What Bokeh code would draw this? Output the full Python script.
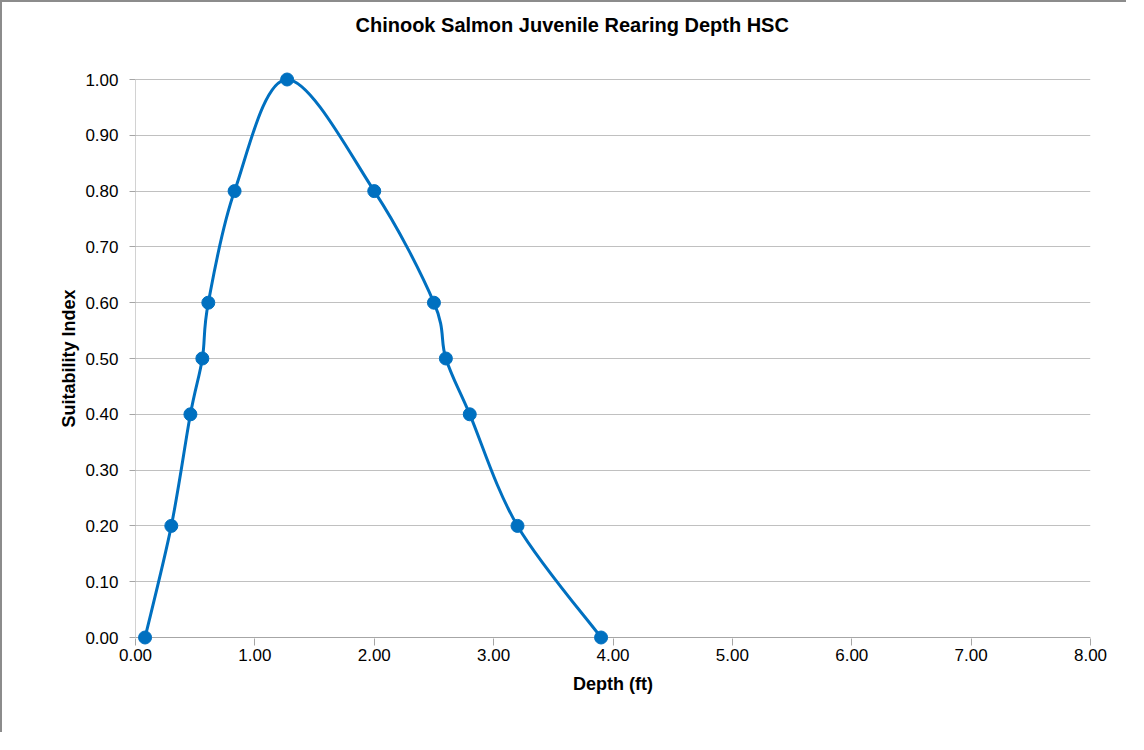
import numpy as np
from bokeh.plotting import figure
from bokeh.models import Range1d, FixedTicker, NumeralTickFormatter, Title
from bokeh.embed import file_html
from bokeh.resources import INLINE

# ---- data ----
depth_ft = [0.08, 0.30, 0.46, 0.56, 0.61, 0.83, 1.27, 2.00, 2.50, 2.60, 2.80, 3.20, 3.90]
suitability = [0.0, 0.2, 0.4, 0.5, 0.6, 0.8, 1.0, 0.8, 0.6, 0.5, 0.4, 0.2, 0.0]
x_ticks = [0, 1, 2, 3, 4, 5, 6, 7, 8]
y_ticks = [0.0, 0.1, 0.2, 0.3, 0.4, 0.5, 0.6, 0.7, 0.8, 0.9, 1.0]
title_text = "Chinook Salmon Juvenile Rearing Depth HSC"
x_label = "Depth (ft)"
y_label = "Suitability Index"

BLUE = "#0070C0"
AXIS = "#a6a6a6"
FONT = "Liberation Sans"

PAD_PX = 8                      # extra frame room so end markers are not clipped
W, H = 1126, 732
ML, MR, MT, MB = 133, 38, 77 - PAD_PX, 97 - PAD_PX
FW, FH = W - ML - MR, H - MT - MB
inner_h = FH - 2 * PAD_PX
ypad = PAD_PX / inner_h * (y_ticks[-1] - y_ticks[0])

p = figure(width=W, height=H, output_backend="svg", toolbar_location=None,
           x_range=Range1d(x_ticks[0], x_ticks[-1]),
           y_range=Range1d(y_ticks[0] - ypad, y_ticks[-1] + ypad),
           min_border_left=ML, min_border_right=MR, min_border_top=MT, min_border_bottom=MB)
p.styles = {"border-left": "2px solid #8c8c8c", "border-top": "2px solid #8c8c8c"}

# blank spacer between plot area and title (first "above" item sits closest to the frame)
p.add_layout(Title(text=" ", text_font_size="1px", text_color="#ffffff", standoff=33), "above")

# real title (outermost), left edge placed so it sits centred on the whole chart
p.title.text = title_text
p.title.align = "left"
p.title.offset = 220
p.title.standoff = 0
p.title.text_font = FONT
p.title.text_font_size = "20px"
p.title.text_font_style = "bold"
p.title.text_color = "#000000"

p.outline_line_color = None
p.background_fill_color = "white"
p.border_fill_color = "white"

p.xgrid.grid_line_color = None
p.ygrid.grid_line_color = "#c0c0c0"
p.ygrid.grid_line_width = 1

for ax in (p.xaxis[0], p.yaxis[0]):
    ax.axis_line_color = None
    ax.major_tick_line_color = AXIS
    ax.minor_tick_line_color = None
    ax.major_tick_in = 0
    ax.major_tick_out = 6
    ax.major_label_text_font = FONT
    ax.major_label_text_font_size = "17px"
    ax.major_label_text_color = "#000000"
    ax.axis_label_text_font = FONT
    ax.axis_label_text_font_size = "18px"
    ax.axis_label_text_font_style = "bold"
    ax.axis_label_text_color = "#000000"
    ax.formatter = NumeralTickFormatter(format="0.00")

p.xaxis[0].ticker = FixedTicker(ticks=x_ticks)
p.yaxis[0].ticker = FixedTicker(ticks=y_ticks)
# x axis sits PAD_PX below zero: draw its ticks inward so they hang from y=0
p.xaxis[0].major_tick_in = PAD_PX - 1
p.xaxis[0].major_tick_out = 0
p.xaxis[0].axis_label = x_label
p.yaxis[0].axis_label = y_label
p.xaxis[0].major_label_standoff = 3
p.yaxis[0].major_label_standoff = 11
p.xaxis[0].axis_label_standoff = 10
p.yaxis[0].axis_label_standoff = 3

# axis lines drawn at the data extents
p.segment(x0=[x_ticks[0], x_ticks[0]], y0=[y_ticks[0], y_ticks[0]],
          x1=[x_ticks[0], x_ticks[-1]], y1=[y_ticks[-1], y_ticks[0]],
          line_color=AXIS, line_width=1)

# ---- smoothed line (Excel-like Bezier, computed in screen-proportional space) ----
sx = FW / (x_ticks[-1] - x_ticks[0])
sy = inner_h / (y_ticks[-1] - y_ticks[0])
P = np.column_stack([np.array(depth_ft) * sx, np.array(suitability) * sy])
n = len(P)
x0, y0, x1, y1, cx0, cy0, cx1, cy1 = ([] for _ in range(8))
for i in range(n - 1):
    a = P[i - 1] if i > 0 else P[i]
    b = P[i]
    c = P[i + 1]
    d = P[i + 2] if i + 2 < n else P[i + 1]
    c1 = b + (c - a) / 6.0
    c2 = c - (d - b) / 6.0
    x0.append(b[0] / sx); y0.append(b[1] / sy)
    x1.append(c[0] / sx); y1.append(c[1] / sy)
    cx0.append(c1[0] / sx); cy0.append(c1[1] / sy)
    cx1.append(c2[0] / sx); cy1.append(c2[1] / sy)

p.bezier(x0=x0, y0=y0, x1=x1, y1=y1, cx0=cx0, cy0=cy0, cx1=cx1, cy1=cy1,
         line_color=BLUE, line_width=3)
p.scatter(depth_ft, suitability, size=13, marker="circle",
          fill_color=BLUE, line_color=BLUE)

open("out.html", "w").write(file_html(p, INLINE))
